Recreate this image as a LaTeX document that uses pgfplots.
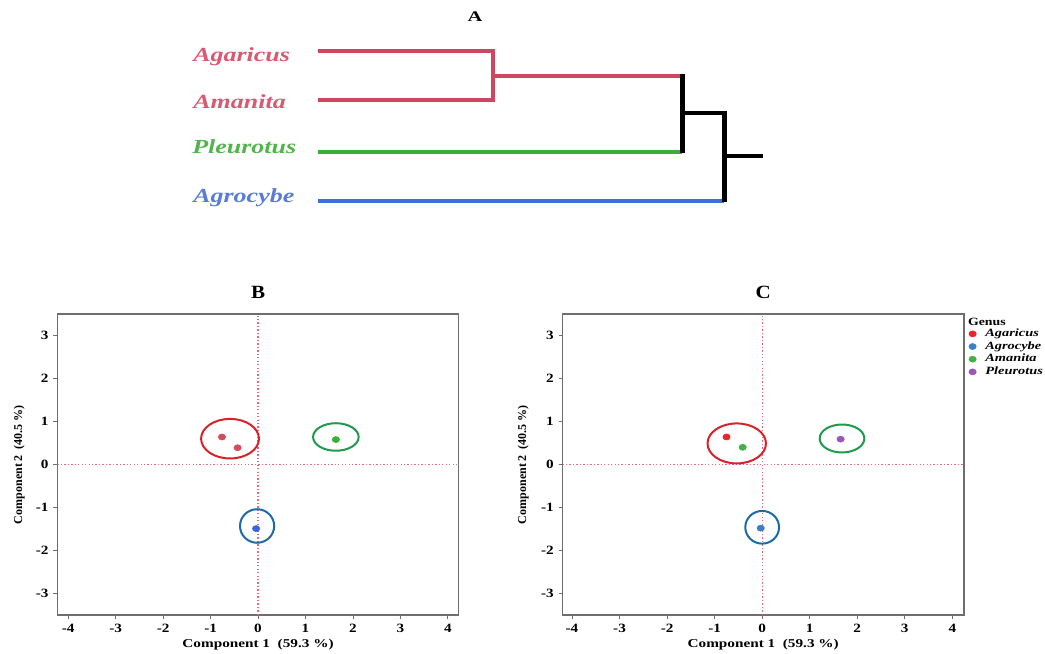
\documentclass[border=0pt]{standalone}
\usepackage{pgfplots}
\pgfplotsset{compat=1.18}
\usepackage{fontspec}
\setmainfont{Liberation Serif}
\usepackage{graphicx}

\definecolor{axgray}{HTML}{6E6E6E}
\definecolor{dotc}{HTML}{E06A7E}
\definecolor{dred}{HTML}{D04560}
\definecolor{dgreen}{HTML}{3AAD3A}
\definecolor{dblue}{HTML}{3D6FD6}
\definecolor{lred}{HTML}{D85A72}
\definecolor{lgreen}{HTML}{52B44A}
\definecolor{lblue}{HTML}{5A7BD8}
\definecolor{bred}{HTML}{D64B5C}
\definecolor{bgreen}{HTML}{3CAE3C}
\definecolor{bblue}{HTML}{3A64E0}
\definecolor{cred}{HTML}{E8242C}
\definecolor{cblue}{HTML}{3A7FC1}
\definecolor{cgreen}{HTML}{45B048}
\definecolor{cpurple}{HTML}{9C55B8}
\definecolor{ered}{HTML}{D8222A}
\definecolor{egreen}{HTML}{1F9A4C}
\definecolor{eblue}{HTML}{1C6AA8}

\newcommand{\sx}[2][1.2]{\scalebox{#1}[1]{#2}}

\pgfplotsset{pca/.style={
  anchor=south west,
  scale only axis, width=301.1pt, height=225.75pt,
  ymin=-3.5, ymax=3.5,
  axis line style={draw=axgray, line width=0.95pt},
  tick align=outside, tick pos=left,
  major tick length=3pt,
  tick style={draw=axgray, line width=0.6pt},
  xtick={-4,-3,-2,-1,0,1,2,3,4},
  ytick={-3,-2,-1,0,1,2,3},
  xticklabels={\sx{-4},\sx{-3},\sx{-2},\sx{-1},\sx{0},\sx{1},\sx{2},\sx{3},\sx{4}},
  yticklabels={\sx{-3},\sx{-2},\sx{-1},\sx{0},\sx{1},\sx{2},\sx{3}},
  ticklabel style={font=\fontsize{9.5}{10}\selectfont\bfseries},
  label style={font=\fontsize{9}{10}\selectfont\bfseries},
  xlabel={\sx[1.27]{Component 1\ \ (59.3 \%)}},
  ylabel={Component 2\ \ (40.5 \%)},
  xlabel style={at={(axis description cs:0.5,0)}, anchor=base, yshift=-24pt},
  title style={at={(axis description cs:0.5,1)}, anchor=base, yshift=5.5pt, font=\fontsize{14}{16}\selectfont\bfseries},
  every axis plot/.append style={mark size=2.3pt, mark options={xscale=1.2}},
  refline/.style={dotc, line width=1pt, dash pattern=on 1pt off 1.6pt, forget plot},
}}

\begin{document}
\begin{tikzpicture}
\useasboundingbox (0,0) rectangle (783.75pt,489.75pt);

% ---------- A: dendrogram ----------
\begin{axis}[at={(135pt,317.25pt)}, anchor=south west, scale only axis,
  width=450pt, height=172.5pt, xmin=180, xmax=780, ymin=0, ymax=230,
  y dir=reverse, hide axis, clip=false]
\addplot[dred, line width=3pt, line join=miter, line cap=butt] coordinates {(318,50.7)(492.7,50.7)(492.7,100.3)(318,100.3)};
\addplot[dred, line width=3pt, line cap=butt] coordinates {(492.7,76)(682,76)};
\addplot[dgreen, line width=3pt, line cap=butt] coordinates {(318,151.7)(682,151.7)};
\addplot[dblue, line width=3pt, line cap=butt] coordinates {(318,201.3)(724,201.3)};
\addplot[black, line width=3.4pt, line cap=butt] coordinates {(682.7,74.5)(682.7,153)};
\addplot[black, line width=3.4pt, line cap=butt] coordinates {(682.7,113)(724.7,113)};
\addplot[black, line width=3.4pt, line cap=butt] coordinates {(724.7,111.5)(724.7,202.5)};
\addplot[black, line width=3.4pt, line cap=butt] coordinates {(724.7,156)(763,156)};
\node[anchor=center, font=\fontsize{11}{12}\selectfont\bfseries] at (axis cs:475,17) {\sx[1.4]{A}};
\node[anchor=base west, inner sep=0pt, text=lred, font=\fontsize{15}{17}\selectfont\bfseries\itshape] at (axis cs:193,62) {\sx[1.3]{Agaricus}};
\node[anchor=base west, inner sep=0pt, text=lred, font=\fontsize{15}{17}\selectfont\bfseries\itshape] at (axis cs:193,108.3) {\sx[1.3]{Amanita}};
\node[anchor=base west, inner sep=0pt, text=lgreen, font=\fontsize{15}{17}\selectfont\bfseries\itshape] at (axis cs:192,154) {\sx[1.3]{Pleurotus}};
\node[anchor=base west, inner sep=0pt, text=lblue, font=\fontsize{15}{17}\selectfont\bfseries\itshape] at (axis cs:193,202.3) {\sx[1.3]{Agrocybe}};
\end{axis}

% ---------- B ----------
\begin{axis}[pca, at={(42.975pt,28.5pt)}, xmin=-4.23, xmax=4.23,
  ylabel style={at={(axis description cs:-0.095,0.5)}, anchor=center},
  title={\sx[1.13]{B}}]
\addplot[refline] coordinates {(0,-3.5)(0,3.5)};
\addplot[refline] coordinates {(-4.23,0)(4.23,0)};
\draw[ered, line width=1.5pt] (axis cs:-0.59,0.6) ellipse [x radius=0.61, y radius=0.46];
\draw[egreen, line width=1.5pt] (axis cs:1.64,0.64) ellipse [x radius=0.48, y radius=0.32];
\draw[eblue, line width=1.5pt] (axis cs:-0.02,-1.43) ellipse [x radius=0.36, y radius=0.39];
\addplot[only marks, mark=*, color=bred] coordinates {(-0.76,0.64)(-0.43,0.39)};
\addplot[only marks, mark=*, color=bgreen] coordinates {(1.64,0.58)};
\addplot[only marks, mark=*, color=bblue] coordinates {(-0.04,-1.49)};
\end{axis}

% ---------- C ----------
\begin{axis}[pca, at={(421.875pt,28.5pt)}, xmin=-4.2, xmax=4.245,
  ylabel style={at={(axis description cs:-0.098,0.5)}, anchor=center},
  title={\sx[1.13]{C}},
  legend image code/.code={\draw[#1] plot coordinates {(0pt,0pt)};},
  legend cell align=left,
  legend style={at={(axis description cs:1,1)}, anchor=north west,
    xshift=3.5pt, yshift=-11pt, draw=none, fill=none, inner sep=0pt,
    font=\fontsize{8.3}{9}\selectfont\bfseries\itshape,
    nodes={inner sep=0pt, text height=5.6pt, text depth=1.8pt},
    row sep=2.1pt,
    /tikz/every odd column/.append style={column sep=6.8pt}}]
\addplot[refline] coordinates {(0,-3.5)(0,3.5)};
\addplot[refline] coordinates {(-4.2,0)(4.245,0)};
\draw[ered, line width=1.5pt] (axis cs:-0.535,0.49) ellipse [x radius=0.615, y radius=0.465];
\draw[egreen, line width=1.5pt] (axis cs:1.68,0.605) ellipse [x radius=0.47, y radius=0.325];
\draw[eblue, line width=1.5pt] (axis cs:0.0,-1.46) ellipse [x radius=0.355, y radius=0.38];
\addplot[only marks, mark=*, color=cred] coordinates {(-0.75,0.64)};
\addlegendentry{\sx[1.3]{Agaricus}}
\addplot[only marks, mark=*, color=cblue] coordinates {(-0.03,-1.48)};
\addlegendentry{\sx[1.3]{Agrocybe}}
\addplot[only marks, mark=*, color=cgreen] coordinates {(-0.41,0.40)};
\addlegendentry{\sx[1.3]{Amanita}}
\addplot[only marks, mark=*, color=cpurple] coordinates {(1.65,0.59)};
\addlegendentry{\sx[1.3]{Pleurotus}}
\end{axis}

\node[anchor=base west, inner sep=0pt, font=\fontsize{8.3}{9}\selectfont\bfseries] at (725.8pt,245.5pt) {\sx[1.25]{Genus}};
\end{tikzpicture}
\end{document}
